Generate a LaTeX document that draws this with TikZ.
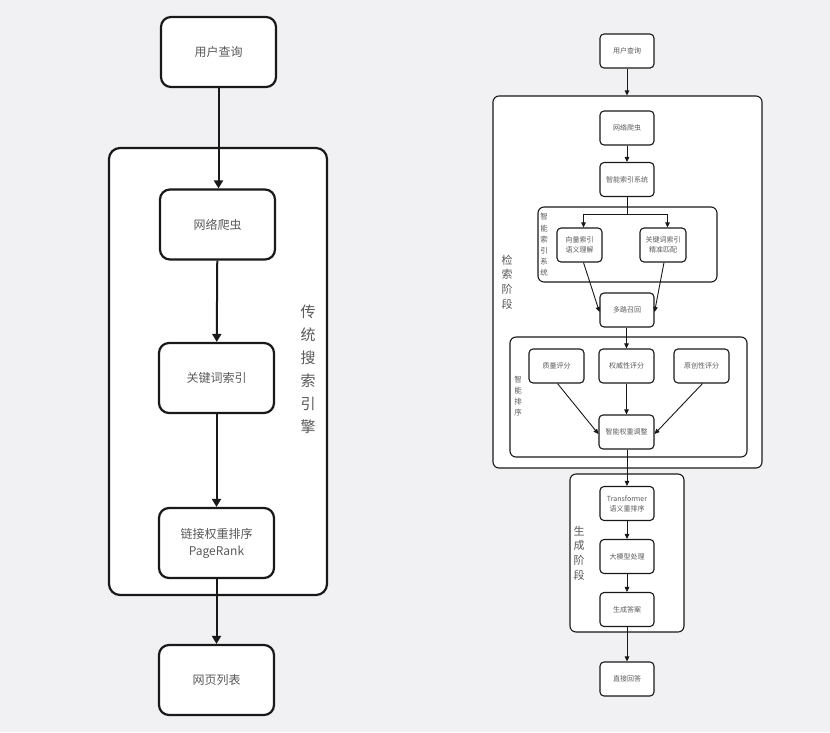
\documentclass[tikz,border=0pt]{standalone}
\usepackage{fontspec}
\setmainfont{Noto Sans CJK SC}
\usetikzlibrary{arrows.meta}
\definecolor{bg}{RGB}{241,241,243}
\definecolor{txt}{RGB}{90,90,90}
\definecolor{ln}{RGB}{25,25,25}
\begin{document}
\begin{tikzpicture}[x=1pt,y=-1pt,
  Lbox/.style={draw=ln, line width=2.2pt, rounded corners=10pt, fill=white, minimum width=115pt, minimum height=70pt, inner sep=0pt, font=\fontsize{12}{17}\selectfont, text=txt, align=center},
  Lcont/.style={draw=ln, line width=2.2pt, rounded corners=11pt, fill=white, inner sep=0pt},
  Rbox/.style={draw=ln, line width=1.1pt, rounded corners=4pt, fill=white, minimum width=54pt, minimum height=34pt, inner sep=0pt, font=\fontsize{7}{10}\selectfont, text=txt, align=center},
  Rcont/.style={draw=ln, line width=1.1pt, rounded corners=6pt, fill=white, inner sep=0pt},
  Larr/.style={draw=ln, line width=2pt, -{Triangle[length=8pt,width=9pt]}},
  Rarr/.style={draw=ln, line width=0.9pt, -{Triangle[length=5pt,width=4.5pt]}},
  Rline/.style={draw=ln, line width=0.9pt},
  vlab/.style={text=txt, align=center, inner sep=0pt}
]
\fill[bg] (0,0) rectangle (830,732);
\useasboundingbox (0,0) rectangle (830,732);

% ---------- left diagram ----------
\node[Lcont, minimum width=218pt, minimum height=447pt] (lc) at (218,371.5) {};
\node[vlab, font=\fontsize{15}{23}\selectfont] (llab) at (308,369) {传\\统\\搜\\索\\引\\擎};
\node[Lbox] (q1) at (218.5,52) {用户查询};
\node[Lbox] (c1) at (217.5,224.5) {网络爬虫};
\node[Lbox] (k1) at (216.5,378) {关键词索引};
\node[Lbox] (p1) at (216.5,543) {链接权重排序\\PageRank};
\node[Lbox] (w1) at (216.5,680) {网页列表};
\draw[Larr] (q1.south) -- (c1.north -| q1.south);
\draw[Larr] (c1) -- (k1);
\draw[Larr] (k1) -- (p1);
\draw[Larr] (p1) -- (w1);

% ---------- right diagram ----------
\node[Rcont, minimum width=269pt, minimum height=372pt] (outer) at (627.5,282) {};
\node[vlab, font=\fontsize{11}{14.7}\selectfont] (olab) at (507,282) {检\\索\\阶\\段};
\node[Rcont, minimum width=179pt, minimum height=75pt] (idx) at (627.5,244.5) {};
\node[vlab, font=\fontsize{7.5}{11.2}\selectfont] (ilab) at (544,245) {智\\能\\索\\引\\系\\统};
\node[Rcont, minimum width=237pt, minimum height=120pt] (rank) at (628.5,397) {};
\node[vlab, font=\fontsize{7.5}{11}\selectfont] (slab) at (518,396.5) {智\\能\\排\\序};
\node[Rcont, minimum width=114pt, minimum height=158pt] (gen) at (627,553) {};
\node[vlab, font=\fontsize{11}{14.7}\selectfont] (glab) at (579,553) {生\\成\\阶\\段};

\node[Rbox] (r0) at (627,51) {用户查询};
\node[Rbox] (r1) at (627,128) {网络爬虫};
\node[Rbox] (r2) at (627,179.5) {智能索引系统};
\node[Rbox, minimum width=45pt] (rv) at (579.5,245) {向量索引\\语义理解};
\node[Rbox, minimum width=46pt] (rk) at (663,245) {关键词索引\\精准匹配};
\node[Rbox] (rm) at (627,310) {多路召回};
\node[Rbox, minimum width=55pt] (s1) at (556.5,366) {质量评分};
\node[Rbox, minimum width=55pt] (s2) at (626.5,366) {权威性评分};
\node[Rbox, minimum width=55pt] (s3) at (701.5,366) {原创性评分};
\node[Rbox, minimum width=55pt] (sw) at (626.5,432) {智能权重调整};
\node[Rbox] (t1) at (627,503.5) {Transformer\\语义重排序};
\node[Rbox] (t2) at (627,556.5) {大模型处理};
\node[Rbox] (t3) at (627,609.5) {生成答案};
\node[Rbox] (ans) at (627,679) {直接回答};

\coordinate (br) at (627,214);
\draw[Rarr] (r0) -- (outer.north -| r0.south);
\draw[Rarr] (r1) -- (r2);
\draw[Rline] (r2.south) -- (br);
\draw[Rarr] (br) -| ([xshift=4pt]rv.north);
\draw[Rarr] (br) -| ([xshift=4.5pt]rk.north);
\draw[Rarr] ([xshift=4pt]rv.south) -- ([yshift=-2pt]rm.west);
\draw[Rarr] ([xshift=1pt]rk.south) -- ([yshift=-2pt]rm.east);
\draw[Rarr] (rm.south -| s2.north) -- (s2.north);
\draw[Rarr] ([xshift=1pt]s1.south) -- ([yshift=-2pt]sw.west);
\draw[Rarr] (s2) -- (sw);
\draw[Rarr] ([xshift=1pt]s3.south) -- ([yshift=-2pt]sw.east);
\draw[Rarr] (sw.south -| t1.north) -- (t1.north);
\draw[Rarr] (t1) -- (t2);
\draw[Rarr] (t2) -- (t3);
\draw[Rarr] (t3) -- (ans);
\end{tikzpicture}
\end{document}
